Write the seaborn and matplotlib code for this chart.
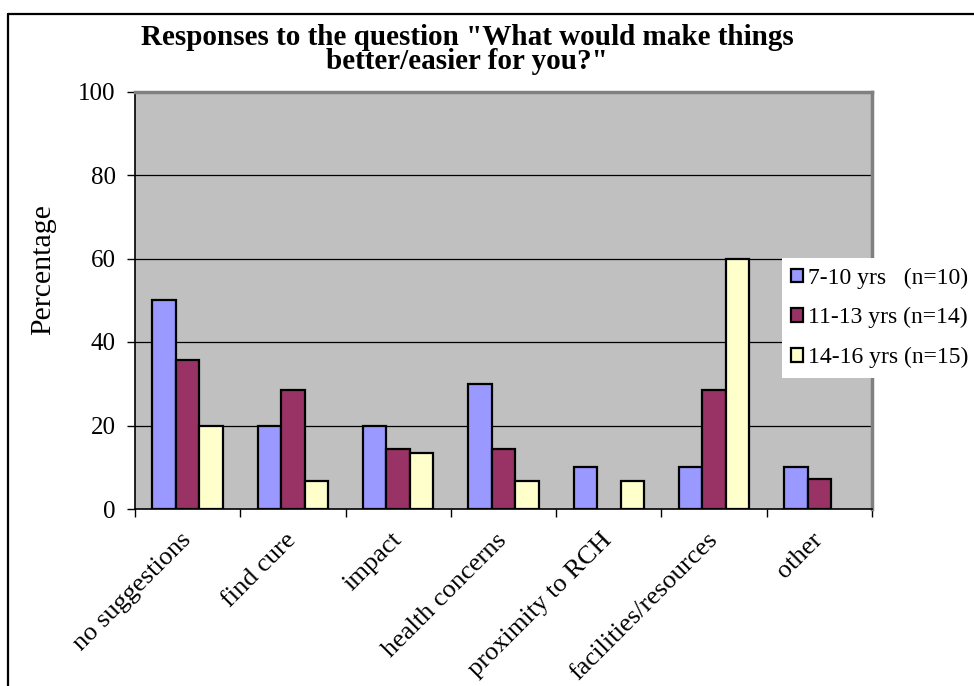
import matplotlib
matplotlib.use("Agg")
import matplotlib.pyplot as plt
from matplotlib.lines import Line2D
from matplotlib.patches import Patch
from matplotlib.transforms import ScaledTranslation
import seaborn as sns
import pandas as pd

# Survey responses, percent of each age group
categories = ["no suggestions", "find cure", "impact", "health concerns",
              "proximity to RCH", "facilities/resources", "other"]
groups = ["7-10 yrs   (n=10)", "11-13 yrs (n=14)", "14-16 yrs (n=15)"]
pct_7_10 = [50.0, 20.0, 20.0, 30.0, 10.0, 10.0, 10.0]
pct_11_13 = [35.7, 28.6, 14.3, 14.3, 0.0, 28.6, 7.1]
pct_14_16 = [20.0, 6.7, 13.3, 6.7, 6.7, 60.0, 0.0]
colors = ["#9999FF", "#993366", "#FFFFCC"]
y_ticks = [0, 20, 40, 60, 80, 100]
title = "Responses to the question \"What would make things\nbetter/easier for you?\""

rows = []
for grp, vals in zip(groups, [pct_7_10, pct_11_13, pct_14_16]):
    for cat, v in zip(categories, vals):
        rows.append({"category": cat, "group": grp, "pct": v})
df = pd.DataFrame(rows)

sns.set_style("white")
plt.rcParams["font.family"] = ["Liberation Serif", "DejaVu Serif"]
for key in ["text.color", "axes.labelcolor", "xtick.color", "ytick.color"]:
    plt.rcParams[key] = "black"

W, H = 974, 686
fig = plt.figure(figsize=(W / 100, H / 100), dpi=100)
ax = fig.add_axes([135 / W, 1 - 509 / H, (872 - 135) / W, (509 - 91.5) / H])
ax.set_facecolor("#C0C0C0")

sns.barplot(data=df, x="category", y="pct", hue="group", order=categories,
            hue_order=groups, palette=colors, width=0.67, gap=0,
            edgecolor="black", linewidth=1.6, saturation=1, legend=False,
            ax=ax, zorder=3)

# empty categories get no bar at all
for p in ax.patches:
    if p.get_height() == 0:
        p.set_visible(False)

ax.set_ylim(0, 100)
ax.set_xlim(-0.5, len(categories) - 0.5)
ax.set_yticks(y_ticks)
ax.set_yticklabels([str(t) for t in y_ticks], fontsize=18)
for t in y_ticks[1:-1]:
    ax.axhline(t, color="black", linewidth=0.9, zorder=1)

# ticks on category boundaries, labels at category centres
ax.set_xticks([i - 0.5 for i in range(len(categories) + 1)], minor=False)
ax.set_xticklabels([])
ax.set_xticks(range(len(categories)), minor=True)
ax.set_xticklabels(categories, minor=True, rotation=45, ha="right",
                   va="center", rotation_mode="anchor", fontsize=19)
shift = ScaledTranslation(6 / 100, 0, fig.dpi_scale_trans)
for lbl in ax.get_xticklabels(minor=True):
    lbl.set_transform(lbl.get_transform() + shift)
ax.tick_params(axis="x", which="minor", length=0, pad=20)
ax.tick_params(axis="x", which="major", length=6, width=1, color="black",
               direction="out", bottom=True)
ax.tick_params(axis="y", length=6, width=1, color="black", direction="out",
               left=True, pad=8)

ax.set_xlabel("")
ax.set_ylabel("")
fig.text(43 / W, 1 - 270 / H, "Percentage", rotation=90, ha="center",
         va="center", fontsize=21.5)

for side in ["left", "bottom"]:
    ax.spines[side].set_color("black")
    ax.spines[side].set_linewidth(1.2)
for side in ["top", "right"]:
    ax.spines[side].set_color("#808080")
    ax.spines[side].set_linewidth(2.5)

# two-line title with tight line spacing
fig.text(467 / W, 1 - 24 / H, title, ha="center", va="top", fontsize=21,
         fontweight="bold", linespacing=0.84, multialignment="center")

handles = [Patch(facecolor=c, edgecolor="black", linewidth=1.6) for c in colors]
leg = fig.legend(handles, groups, loc="upper left",
                 bbox_to_anchor=(782 / W, 1 - 258 / H), frameon=True,
                 fancybox=False, fontsize=17, handlelength=0.5,
                 handleheight=0.5, handletextpad=0.2, labelspacing=0.79,
                 borderpad=0.4, borderaxespad=0)
leg.get_frame().set_facecolor("white")
leg.get_frame().set_edgecolor("white")
leg.get_frame().set_linewidth(0)
leg.get_frame().set_alpha(1)

# outer chart frame
fig.add_artist(Line2D([8 / W, 8 / W], [0, 1 - 13.5 / H], color="black",
                      linewidth=1.6, transform=fig.transFigure))
fig.add_artist(Line2D([8 / W, 1], [1 - 13.5 / H, 1 - 13.5 / H], color="black",
                      linewidth=1.6, transform=fig.transFigure))

fig.savefig("out.png", dpi=100)
